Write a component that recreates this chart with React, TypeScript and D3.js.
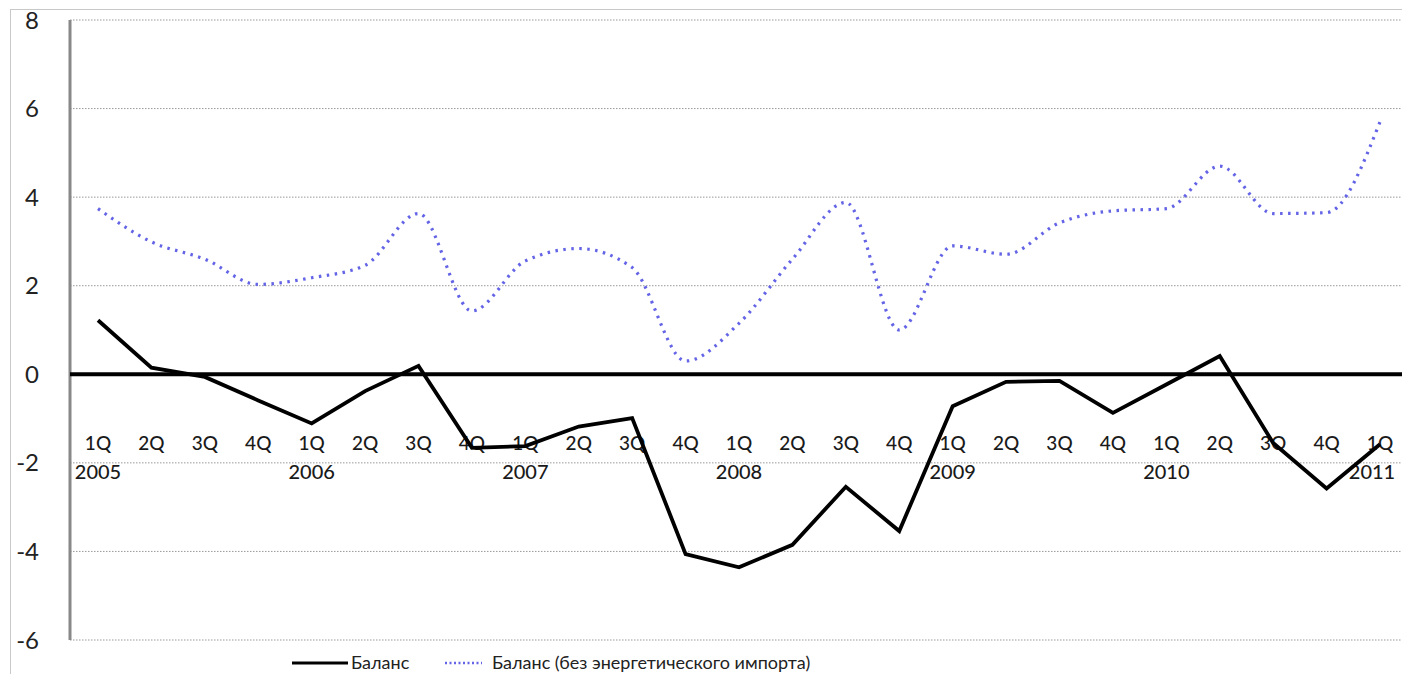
import React from "react";
import * as d3 from "d3";

const quarters = [
  "1Q", "2Q", "3Q", "4Q",
  "1Q", "2Q", "3Q", "4Q",
  "1Q", "2Q", "3Q", "4Q",
  "1Q", "2Q", "3Q", "4Q",
  "1Q", "2Q", "3Q", "4Q",
  "1Q", "2Q", "3Q", "4Q",
  "1Q",
];
const years = ["2005", "2006", "2007", "2008", "2009", "2010", "2011"];

const balance = [
  1.22, 0.15, -0.06, -0.59,
  -1.11, -0.38, 0.19, -1.66,
  -1.62, -1.18, -0.99, -4.06,
  -4.36, -3.85, -2.54, -3.54,
  -0.72, -0.17, -0.15, -0.87,
  -0.23, 0.41, -1.55, -2.58,
  -1.58,
];
const balanceExEnergy = [
  3.74, 2.99, 2.6, 2.03,
  2.18, 2.46, 3.63, 1.43,
  2.56, 2.84, 2.41, 0.3,
  1.15, 2.6, 3.88, 1.0,
  2.9, 2.71, 3.42, 3.69,
  3.74, 4.7, 3.63, 3.65,
  5.7,
];
const yTicks = [8, 6, 4, 2, 0, -2, -4, -6];
const seriesNames = ["Баланс", "Баланс (без энергетического импорта)"];

const W = 1402;
const H = 674;
const FONT = "Lato, 'Open Sans', sans-serif";

export default function App() {
  const idx = quarters.map((_, i) => String(i));
  const x = d3.scalePoint<string>().domain(idx).range([98, 1380]);
  const y = d3.scaleLinear().domain([-6, 8]).range([640, 20]);
  const axisX = 70;

  const lineStraight = d3
    .line<number>()
    .x((_, i) => x(String(i)) as number)
    .y((d) => y(d));
  const lineSmooth = d3
    .line<number>()
    .x((_, i) => x(String(i)) as number)
    .y((d) => y(d))
    .curve(d3.curveMonotoneX);

  return (
    <svg
      width={W}
      height={H}
      style={{ position: "absolute", left: 0, top: 0, background: "#fff" }}
    >
      {/* chart area border */}
      <line x1={10} y1={9.5} x2={W} y2={9.5} stroke="#c8c8c8" strokeWidth={1} />
      <line x1={10.5} y1={9} x2={10.5} y2={H} stroke="#c8c8c8" strokeWidth={1} />

      {/* gridlines */}
      {yTicks.map((t) => (
        <line
          key={"g" + t}
          x1={axisX}
          x2={W}
          y1={y(t)}
          y2={y(t)}
          stroke="#999"
          strokeWidth={1}
          strokeDasharray="1.5 1.5"
        />
      ))}

      {/* y axis */}
      <line x1={axisX} x2={axisX} y1={y(8)} y2={y(-6)} stroke="#888" strokeWidth={3} />
      {yTicks.map((t) => (
        <text
          key={"t" + t}
          x={39}
          y={y(t)}
          dy="0.36em"
          textAnchor="end"
          fontFamily={FONT}
          fontSize={24}
          fill="#222"
        >
          {t}
        </text>
      ))}

      {/* zero line */}
      <line x1={axisX} x2={W} y1={y(0)} y2={y(0)} stroke="#000" strokeWidth={4} />

      {/* category labels */}
      {quarters.map((q, i) => (
        <text
          key={"q" + i}
          x={x(String(i)) as number}
          y={450}
          textAnchor="middle"
          fontFamily={FONT}
          fontSize={19}
          fontWeight={500}
          fill="#1a1a1a"
        >
          {q}
        </text>
      ))}
      {years.map((yr, k) => (
        <text
          key={"y" + yr}
          x={Math.min(x(String(k * 4)) as number, 1372)}
          y={479}
          textAnchor="middle"
          fontFamily={FONT}
          fontSize={20}
          fontWeight={500}
          fill="#1a1a1a"
        >
          {yr}
        </text>
      ))}

      {/* series */}
      <path
        d={lineSmooth(balanceExEnergy) || ""}
        fill="none"
        stroke="#6464e6"
        strokeWidth={3.2}
        strokeDasharray="2.5 5.5"
      />
      <path
        d={lineStraight(balance) || ""}
        fill="none"
        stroke="#000"
        strokeWidth={3.8}
        strokeLinejoin="miter"
      />

      {/* legend */}
      <line x1={292} x2={348} y1={663} y2={663} stroke="#000" strokeWidth={3} />
      <text x={351} y={669} fontFamily={FONT} fontSize={18} fill="#222">
        {seriesNames[0]}
      </text>
      <line
        x1={445}
        x2={482}
        y1={663}
        y2={663}
        stroke="#6464e6"
        strokeWidth={2.5}
        strokeDasharray="2 2.5"
      />
      <text x={492} y={669} fontFamily={FONT} fontSize={18} fill="#222">
        {seriesNames[1]}
      </text>
    </svg>
  );
}
